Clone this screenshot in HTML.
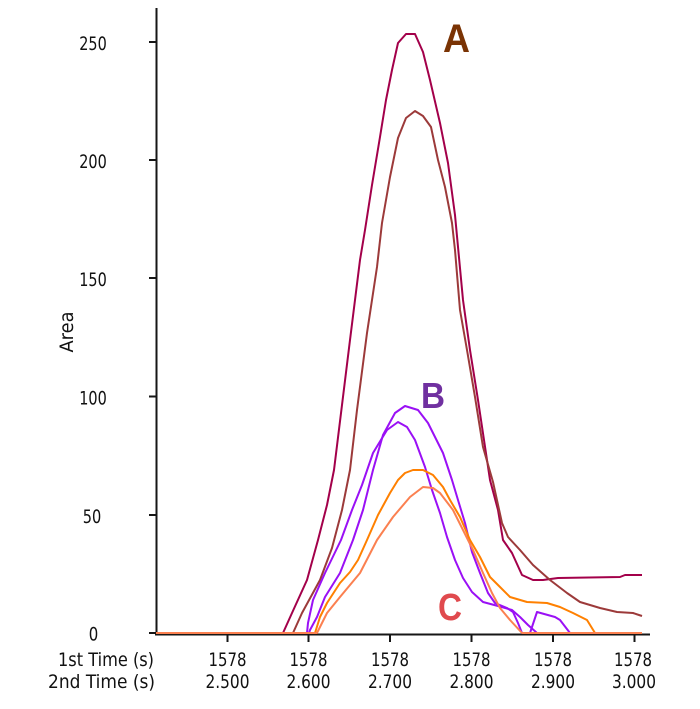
<!DOCTYPE html>
<html>
<head>
<meta charset="utf-8">
<style>
  html, body { margin: 0; padding: 0; background: #ffffff; }
  svg { display: block; }
  text { font-family: "DejaVu Sans", "Liberation Sans", sans-serif; fill: #111; }
  .lbl { font-family: "Liberation Sans", "DejaVu Sans", sans-serif; }
</style>
</head>
<body>
<svg width="700" height="709" viewBox="0 0 700 709" xmlns="http://www.w3.org/2000/svg">
  <rect x="0" y="0" width="700" height="709" fill="#ffffff"/>

  <!-- Axes -->
  <line x1="156.5" y1="8" x2="156.5" y2="635" stroke="#161616" stroke-width="2"/>
  <line x1="155" y1="634.5" x2="650" y2="634.5" stroke="#161616" stroke-width="2"/>

  <!-- Y ticks -->
  <g stroke="#161616" stroke-width="2">
    <line x1="149" y1="42" x2="156" y2="42"/>
    <line x1="149" y1="160" x2="156" y2="160"/>
    <line x1="149" y1="278" x2="156" y2="278"/>
    <line x1="149" y1="396.5" x2="156" y2="396.5"/>
    <line x1="149" y1="515" x2="156" y2="515"/>
    <line x1="149" y1="633" x2="156" y2="633"/>
  </g>
  <!-- X ticks -->
  <g stroke="#161616" stroke-width="2">
    <line x1="227.5" y1="634" x2="227.5" y2="642"/>
    <line x1="308.5" y1="634" x2="308.5" y2="642"/>
    <line x1="390" y1="634" x2="390" y2="642"/>
    <line x1="471.5" y1="634" x2="471.5" y2="642"/>
    <line x1="553" y1="634" x2="553" y2="642"/>
    <line x1="634.5" y1="634" x2="634.5" y2="642"/>
  </g>

  <!-- Y labels -->
  <g font-size="19" text-anchor="middle">
    <text x="93" y="50" textLength="27.5" lengthAdjust="spacingAndGlyphs">250</text>
    <text x="93" y="168" textLength="27.5" lengthAdjust="spacingAndGlyphs">200</text>
    <text x="93" y="286" textLength="27.5" lengthAdjust="spacingAndGlyphs">150</text>
    <text x="93" y="404.5" textLength="27.5" lengthAdjust="spacingAndGlyphs">100</text>
    <text x="92" y="523" textLength="18.5" lengthAdjust="spacingAndGlyphs">50</text>
    <text x="93.5" y="640.5" textLength="9.5" lengthAdjust="spacingAndGlyphs">0</text>
  </g>
  <text x="0" y="0" font-size="19" text-anchor="middle" textLength="41" lengthAdjust="spacingAndGlyphs" transform="translate(73,332) rotate(-90)">Area</text>

  <!-- X labels -->
  <g font-size="19">
    <text x="58" y="666" textLength="96" lengthAdjust="spacingAndGlyphs">1st Time (s)</text>
    <text x="48" y="688" textLength="107" lengthAdjust="spacingAndGlyphs">2nd Time (s)</text>
  </g>
  <g font-size="19" text-anchor="middle">
    <text x="227.5" y="666" textLength="38" lengthAdjust="spacingAndGlyphs">1578</text>
    <text x="308.5" y="666" textLength="38" lengthAdjust="spacingAndGlyphs">1578</text>
    <text x="390" y="666" textLength="38" lengthAdjust="spacingAndGlyphs">1578</text>
    <text x="471.5" y="666" textLength="38" lengthAdjust="spacingAndGlyphs">1578</text>
    <text x="553" y="666" textLength="38" lengthAdjust="spacingAndGlyphs">1578</text>
    <text x="633" y="666" textLength="38" lengthAdjust="spacingAndGlyphs">1578</text>
    <text x="227.5" y="688" textLength="44" lengthAdjust="spacingAndGlyphs">2.500</text>
    <text x="308.5" y="688" textLength="44" lengthAdjust="spacingAndGlyphs">2.600</text>
    <text x="390" y="688" textLength="44" lengthAdjust="spacingAndGlyphs">2.700</text>
    <text x="471.5" y="688" textLength="44" lengthAdjust="spacingAndGlyphs">2.800</text>
    <text x="553" y="688" textLength="44" lengthAdjust="spacingAndGlyphs">2.900</text>
    <text x="634" y="688" textLength="44" lengthAdjust="spacingAndGlyphs">3.000</text>
  </g>

  <!-- Series -->
  <g fill="none" stroke-width="2" stroke-linejoin="round">
    <!-- A1 crimson -->
    <polyline stroke="#a3004a" points="156,633 283,633 292,613 307,580 318,540 327,505 334,470 342,405 350,340 360,260 365,230 372,185 380,137 386,100 392,70 398,43 406,34 415,34 423,52 430,80 440,123 448,163 455,215 463,300 470,350 478,400 484,440 490,480 498,510 503,540 512,553 522,575 533,580 543,580 558,578 620,577 625,575 642,575"/>
    <!-- A2 brown -->
    <polyline stroke="#9c3a3a" points="156,633 293,633 302,613 320,580 332,548 342,510 350,470 357,410 367,333 377,267 382,223 390,177 398,138 406,118 415,111 423,116 431,127 438,160 445,187 452,223 455,250 460,310 467,350 475,397 483,447 493,482 502,523 508,537 520,550 533,565 550,580 567,593 580,602 600,608 617,612 633,613 642,616"/>
    <!-- B2 purple -->
    <polyline stroke="#9a10f5" points="156,633 307,633 308,623 313,600 325,573 341,540 352,510 362,485 373,453 387,430 398,422 407,427 415,440 425,467 432,490 440,513 447,537 455,560 463,578 472,592 483,602 498,606 512,610 520,617 528,625 537,633 642,633"/>
    <!-- B1 purple -->
    <polyline stroke="#9a10f5" points="156,633 309,633 310,630 317,617 325,597 340,573 353,540 363,510 373,470 383,435 395,413 405,406 418,410 428,423 435,437 443,453 452,480 458,500 465,523 472,552 480,573 488,593 495,603 507,608 513,612 518,623 522,633 530,633 537,612 555,617 560,620 570,633 642,633"/>
    <!-- C1 orange -->
    <polyline stroke="#ff8000" points="156,633 315,633 320,617 327,603 340,583 350,572 358,560 367,540 378,515 390,493 398,480 405,473 413,470 423,470 433,475 443,487 450,500 460,517 470,540 480,557 490,577 500,587 510,597 527,602 547,603 560,607 573,613 587,620 595,633 642,633"/>
    <!-- C2 coral (baseline on top) -->
    <polyline stroke="#fb8050" points="156,633 317,633 327,613 340,597 360,573 377,540 393,517 410,497 423,487 433,488 440,493 453,510 463,530 473,550 483,573 492,593 500,608 510,620 522,633 642,633"/>
  </g>

  <!-- Series labels -->
  <text class="lbl" x="443" y="52" font-size="40" font-weight="bold" style="fill:#7a3304" textLength="27" lengthAdjust="spacingAndGlyphs">A</text>
  <text class="lbl" x="421" y="408" font-size="36" font-weight="bold" style="fill:#7030a0" textLength="24" lengthAdjust="spacingAndGlyphs">B</text>
  <text class="lbl" x="438" y="620" font-size="38" font-weight="bold" style="fill:#e04a4e" textLength="24" lengthAdjust="spacingAndGlyphs">C</text>
</svg>
</body>
</html>
